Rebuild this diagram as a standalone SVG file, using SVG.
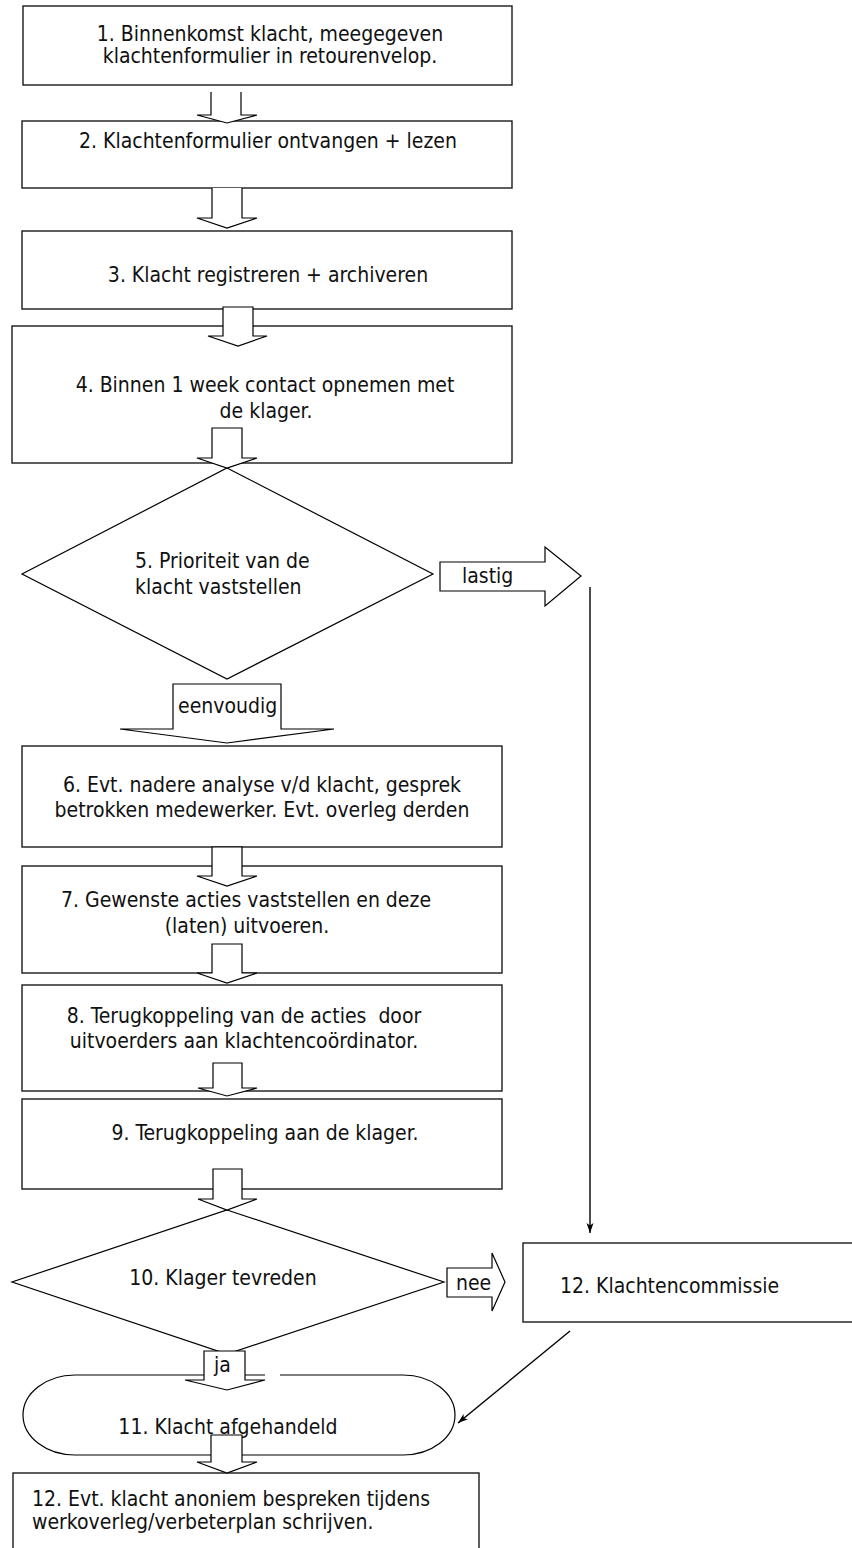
<svg xmlns="http://www.w3.org/2000/svg" width="852" height="1548" viewBox="0 0 852 1548">
<style>
  .box{fill:#fff;stroke:#1a1a1a;stroke-width:1.4}
  .shape{fill:#fff;stroke:#000;stroke-width:1.2}
  .barrow{fill:#fff;stroke:#000;stroke-width:1.2;stroke-linejoin:miter}
  .line{fill:none;stroke:#000;stroke-width:1.4}
  text{font-family:"DejaVu Sans Condensed","DejaVu Sans",sans-serif;font-stretch:condensed;font-size:21px;fill:#111}
  .c{text-anchor:middle}
</style>
<defs>
  <marker id="ah" viewBox="0 0 10 10" refX="10" refY="5" markerWidth="10" markerHeight="10" markerUnits="userSpaceOnUse" orient="auto">
    <path d="M0,1.5 L10,5 L0,8.5 L2.5,5 Z" fill="#000"/>
  </marker>
</defs>
<rect width="852" height="1548" fill="#fff"/>

<g id="node1">
  <rect class="box" x="23" y="6" width="489" height="79"/>
  <text class="c" x="270" y="41">1. Binnenkomst klacht, meegegeven</text>
  <text class="c" x="270" y="63">klachtenformulier in retourenvelop.</text>
</g>
<g id="node2">
  <rect class="box" x="22" y="121" width="490" height="67"/>
  <text class="c" x="268" y="148">2. Klachtenformulier ontvangen + lezen</text>
</g>
<g id="node3">
  <rect class="box" x="22" y="231" width="490" height="78"/>
  <text class="c" x="268" y="282">3. Klacht registreren + archiveren</text>
</g>
<g id="node4">
  <rect class="box" x="12" y="326" width="500" height="137"/>
  <text class="c" x="265" y="392">4. Binnen 1 week contact opnemen met</text>
  <text class="c" x="266" y="418">de klager.</text>
</g>
<g id="node5">
  <polygon class="shape" points="227,468 433,574 227,679 22,574"/>
  <text x="135" y="568">5. Prioriteit van de</text>
  <text x="135" y="594">klacht vaststellen</text>
</g>
<g id="node6">
  <rect class="box" x="22" y="746" width="480" height="101"/>
  <text class="c" x="262" y="792">6. Evt. nadere analyse v/d klacht, gesprek</text>
  <text class="c" x="262" y="817">betrokken medewerker. Evt. overleg derden</text>
</g>
<g id="node7">
  <rect class="box" x="22" y="866" width="480" height="107"/>
  <text class="c" x="246" y="907">7. Gewenste acties vaststellen en deze</text>
  <text class="c" x="247" y="933">(laten) uitvoeren.</text>
</g>
<g id="node8">
  <rect class="box" x="22" y="985" width="480" height="106"/>
  <text class="c" x="244" y="1023" xml:space="preserve">8. Terugkoppeling van de acties  door</text>
  <text class="c" x="244" y="1048">uitvoerders aan klachtencoördinator.</text>
</g>
<g id="node9">
  <rect class="box" x="22" y="1099" width="480" height="90"/>
  <text class="c" x="265" y="1140">9. Terugkoppeling aan de klager.</text>
</g>
<g id="node10">
  <polygon class="shape" points="227,1210 444,1282 227,1354 12,1282"/>
  <text class="c" x="223" y="1285">10. Klager tevreden</text>
</g>
<g id="node12c">
  <rect class="box" x="523" y="1243" width="340" height="79"/>
  <text x="560" y="1293">12. Klachtencommissie</text>
</g>
<g id="node11">
  <rect class="shape" x="23" y="1375" width="432" height="80" rx="52" ry="40"/>
  <text class="c" x="228" y="1434">11. Klacht afgehandeld</text>
</g>
<g id="node12">
  <rect class="box" x="13" y="1473" width="466" height="90"/>
  <text x="32" y="1506">12. Evt. klacht anoniem bespreken tijdens</text>
  <text x="32" y="1529">werkoverleg/verbeterplan schrijven.</text>
</g>

<g id="connectors">
  <!-- 1 -> 2 (open top) -->
  <path class="barrow" d="M211,92 L211,115 L197,115 L227,123 L257,115 L241,115 L241,92"/>
  <!-- 2 -> 3 -->
  <path class="barrow" d="M212,188 L212,218 L197,218 L227,228 L257,218 L242,218 L242,188"/>
  <!-- 3 -> 4 -->
  <path class="barrow" d="M223,307 L223,336 L208,336 L238,346 L267,336 L253,336 L253,307 Z"/>
  <!-- 4 -> 5 -->
  <path class="barrow" d="M212,428 L212,458 L197,458 L227,468 L257,458 L242,458 L242,428 Z"/>
  <!-- lastig -->
  <g id="arrow-lastig">
    <path class="barrow" d="M440,562 L545,562 L545,547 L581,576 L545,606 L545,591 L440,591 Z"/>
    <text x="462" y="583">lastig</text>
  </g>
  <line class="line" x1="590" y1="587" x2="590" y2="1233" marker-end="url(#ah)"/>
  <!-- eenvoudig -->
  <g id="arrow-eenvoudig">
    <path class="barrow" d="M173,684 L281,684 L281,729 L334,729 L227,743 L120,729 L173,729 Z"/>
    <text x="178" y="713">eenvoudig</text>
  </g>
  <!-- 6 -> 7 -->
  <path class="barrow" d="M212,847 L212,876 L197,876 L227,886 L257,876 L242,876 L242,847 Z"/>
  <!-- 7 -> 8 -->
  <path class="barrow" d="M212,944 L212,973 L197,973 L227,983 L257,973 L242,973 L242,944 Z"/>
  <!-- 8 -> 9 -->
  <path class="barrow" d="M213,1063 L213,1088 L198,1088 L227,1096 L257,1088 L242,1088 L242,1063 Z"/>
  <!-- 9 -> 10 -->
  <path class="barrow" d="M213,1169 L213,1199 L198,1199 L227,1210 L257,1199 L242,1199 L242,1169 Z"/>
  <!-- nee -->
  <g id="arrow-nee">
    <path class="barrow" d="M447,1268 L492,1268 L492,1253 L505,1282 L492,1311 L492,1297 L447,1297 Z"/>
    <text x="456" y="1290">nee</text>
  </g>
  <!-- ja -->
  <g id="arrow-ja">
    <rect x="265" y="1371" width="15" height="8" fill="#fff"/>
    <path class="barrow" d="M204,1351 L245,1351 L245,1380 L265,1380 L227,1390 L185,1380 L204,1380 Z"/>
    <text x="214" y="1372">ja</text>
  </g>
  <line class="line" x1="570" y1="1331" x2="458" y2="1423" marker-end="url(#ah)"/>
  <!-- 11 -> 12 -->
  <path class="barrow" d="M211,1435 L211,1462 L197,1462 L227,1473 L257,1462 L242,1462 L242,1435 Z"/>
</g>
</svg>
